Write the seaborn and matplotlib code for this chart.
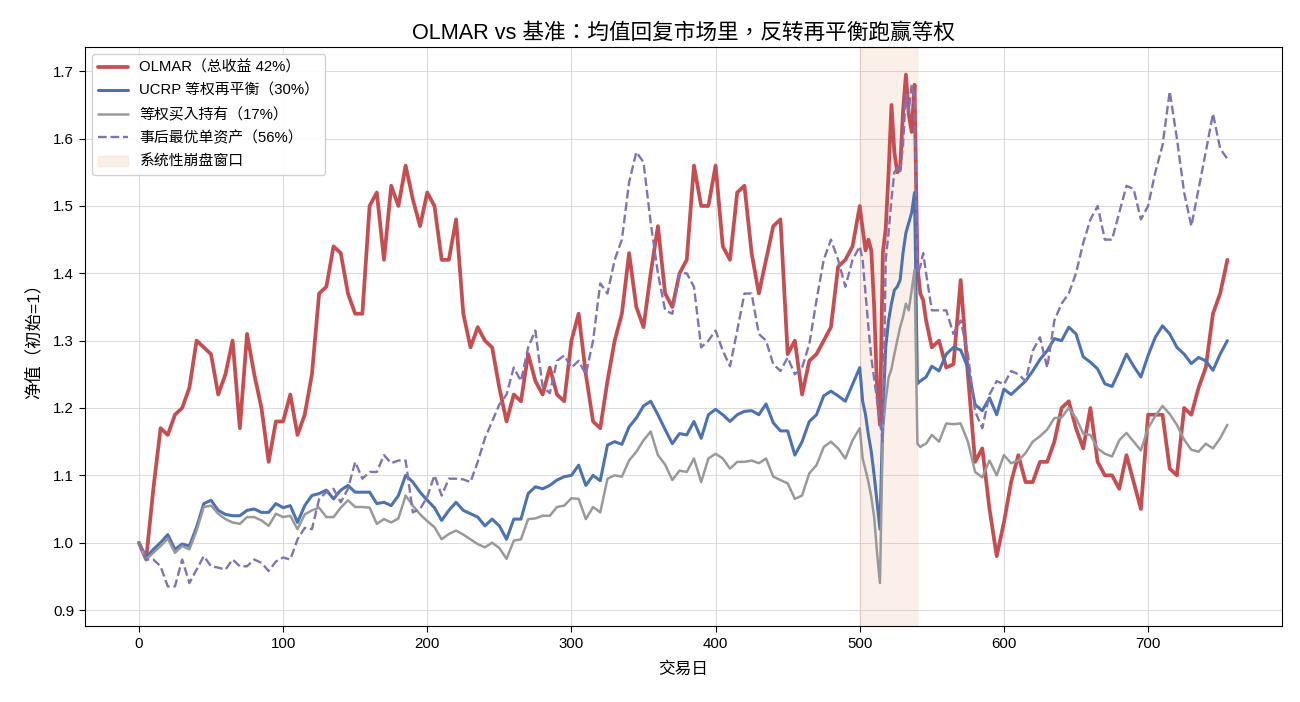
import matplotlib
matplotlib.use("Agg")
import matplotlib.pyplot as plt
import seaborn as sns

# trading days sampled from the chart (denser inside the crash window)
days = list(range(0, 500, 5)) + list(range(500, 548, 2)) + list(range(550, 760, 5))

olmar = [
    1.00, 0.975, 1.08, 1.17, 1.16, 1.19, 1.20, 1.23, 1.30, 1.29, 1.28, 1.22, 1.25, 1.30, 1.17, 1.31, 1.25, 1.20, 1.12, 1.18,
    1.18, 1.22, 1.16, 1.19, 1.25, 1.37, 1.38, 1.44, 1.43, 1.37, 1.34, 1.34, 1.50, 1.52, 1.42, 1.53, 1.50, 1.56, 1.51, 1.47,
    1.52, 1.50, 1.42, 1.42, 1.48, 1.34, 1.29, 1.32, 1.30, 1.29, 1.23, 1.18, 1.22, 1.21, 1.28, 1.24, 1.22, 1.26, 1.22, 1.21,
    1.30, 1.34, 1.25, 1.18, 1.17, 1.24, 1.30, 1.34, 1.43, 1.35, 1.32, 1.40, 1.47, 1.37, 1.35, 1.40, 1.42, 1.56, 1.50, 1.50,
    1.56, 1.44, 1.42, 1.52, 1.53, 1.43, 1.37, 1.42, 1.47, 1.48, 1.28, 1.30, 1.22, 1.27, 1.28, 1.30, 1.32, 1.41, 1.42, 1.44,
    1.50, 1.466, 1.434, 1.45, 1.434, 1.35, 1.23, 1.175, 1.43, 1.466, 1.55, 1.65, 1.58, 1.55, 1.555, 1.64, 1.695, 1.636,
    1.61, 1.68, 1.41, 1.37, 1.36, 1.33,
    1.29, 1.30, 1.26, 1.265, 1.39, 1.25, 1.12, 1.14, 1.05, 0.98, 1.03, 1.09, 1.13, 1.09, 1.09, 1.12, 1.12, 1.15, 1.20, 1.21,
    1.17, 1.14, 1.20, 1.12, 1.10, 1.10, 1.08, 1.13, 1.09, 1.05, 1.19, 1.19, 1.19, 1.11, 1.10, 1.20, 1.19, 1.23, 1.26, 1.34,
    1.37, 1.42,
]

ucrp = [
    1.00, 0.978, 0.99, 1.00, 1.012, 0.99, 0.998, 0.995, 1.023, 1.058, 1.063, 1.048, 1.042, 1.04, 1.04, 1.048, 1.05, 1.045, 1.045, 1.058,
    1.052, 1.055, 1.03, 1.055, 1.07, 1.073, 1.078, 1.065, 1.078, 1.085, 1.075, 1.075, 1.075, 1.058, 1.06, 1.055, 1.07, 1.10, 1.09, 1.075,
    1.063, 1.052, 1.033, 1.048, 1.06, 1.048, 1.043, 1.038, 1.025, 1.035, 1.025, 1.005, 1.035, 1.035, 1.073, 1.083, 1.08, 1.085, 1.093, 1.098,
    1.10, 1.115, 1.085, 1.10, 1.092, 1.145, 1.15, 1.146, 1.172, 1.185, 1.203, 1.21, 1.19, 1.168, 1.147, 1.162, 1.16, 1.18, 1.155, 1.19,
    1.198, 1.19, 1.18, 1.19, 1.195, 1.196, 1.19, 1.206, 1.178, 1.166, 1.166, 1.13, 1.15, 1.18, 1.19, 1.218, 1.225, 1.218, 1.21, 1.235,
    1.26, 1.21, 1.19, 1.16, 1.135, 1.10, 1.06, 1.02, 1.19, 1.29, 1.33, 1.355, 1.375, 1.38, 1.39, 1.43, 1.46, 1.475,
    1.49, 1.52, 1.236, 1.24, 1.243, 1.246,
    1.262, 1.255, 1.28, 1.29, 1.286, 1.26, 1.205, 1.196, 1.215, 1.19, 1.228, 1.22, 1.23, 1.24, 1.255, 1.272, 1.285, 1.303, 1.30, 1.32,
    1.31, 1.276, 1.268, 1.258, 1.236, 1.232, 1.255, 1.28, 1.262, 1.246, 1.278, 1.305, 1.322, 1.31, 1.29, 1.28, 1.266, 1.275, 1.27, 1.256,
    1.28, 1.30,
]

buy_hold = [
    1.00, 0.975, 0.985, 0.995, 1.006, 0.985, 0.995, 0.99, 1.018, 1.053, 1.055, 1.043, 1.035, 1.03, 1.028, 1.038, 1.038, 1.033, 1.025, 1.043,
    1.038, 1.04, 1.02, 1.042, 1.048, 1.052, 1.038, 1.038, 1.052, 1.063, 1.053, 1.053, 1.052, 1.028, 1.035, 1.03, 1.036, 1.07, 1.055, 1.042,
    1.032, 1.023, 1.005, 1.013, 1.018, 1.012, 1.005, 0.998, 0.993, 1.0, 0.992, 0.976, 1.003, 1.005, 1.035, 1.036, 1.04, 1.04, 1.053, 1.055,
    1.066, 1.065, 1.035, 1.053, 1.045, 1.095, 1.10, 1.098, 1.122, 1.135, 1.152, 1.165, 1.13, 1.116, 1.093, 1.107, 1.105, 1.125, 1.09, 1.125,
    1.132, 1.125, 1.11, 1.12, 1.12, 1.122, 1.118, 1.125, 1.098, 1.093, 1.088, 1.065, 1.07, 1.103, 1.115, 1.142, 1.15, 1.14, 1.125, 1.152,
    1.17, 1.125, 1.108, 1.09, 1.068, 1.038, 0.985, 0.94, 1.165, 1.212, 1.245, 1.258, 1.28, 1.30, 1.32, 1.335, 1.355, 1.345,
    1.375, 1.405, 1.147, 1.142, 1.145, 1.147,
    1.16, 1.15, 1.177, 1.176, 1.177, 1.15, 1.105, 1.097, 1.122, 1.10, 1.13, 1.118, 1.122, 1.133, 1.15, 1.158, 1.168, 1.185, 1.186, 1.20,
    1.185, 1.162, 1.16, 1.14, 1.132, 1.128, 1.152, 1.163, 1.15, 1.137, 1.17, 1.188, 1.203, 1.191, 1.175, 1.153, 1.138, 1.135, 1.147, 1.14,
    1.155, 1.175,
]

best_asset = [
    1.00, 0.975, 0.975, 0.965, 0.935, 0.935, 0.975, 0.94, 0.96, 0.98, 0.965, 0.963, 0.96, 0.975, 0.965, 0.965, 0.975, 0.97, 0.958, 0.972,
    0.978, 0.975, 1.005, 1.022, 1.02, 1.065, 1.075, 1.08, 1.06, 1.08, 1.12, 1.095, 1.105, 1.105, 1.13, 1.118, 1.122, 1.122, 1.045, 1.05,
    1.068, 1.10, 1.07, 1.095, 1.095, 1.094, 1.09, 1.12, 1.155, 1.18, 1.205, 1.22, 1.26, 1.24, 1.29, 1.315, 1.232, 1.222, 1.27, 1.278,
    1.26, 1.27, 1.25, 1.30, 1.385, 1.37, 1.42, 1.45, 1.535, 1.58, 1.565, 1.475, 1.40, 1.345, 1.34, 1.40, 1.40, 1.38, 1.29, 1.30,
    1.315, 1.285, 1.262, 1.315, 1.37, 1.37, 1.31, 1.30, 1.265, 1.255, 1.275, 1.25, 1.26, 1.295, 1.36, 1.42, 1.45, 1.42, 1.38, 1.42,
    1.44, 1.42, 1.37, 1.32, 1.275, 1.243, 1.21, 1.18, 1.15, 1.42, 1.46, 1.51, 1.55, 1.556, 1.55, 1.59, 1.665, 1.64,
    1.68, 1.66, 1.40, 1.41, 1.43, 1.40,
    1.345, 1.345, 1.345, 1.31, 1.33, 1.28, 1.195, 1.17, 1.22, 1.24, 1.235, 1.255, 1.25, 1.24, 1.285, 1.305, 1.26, 1.33, 1.355, 1.37,
    1.40, 1.445, 1.48, 1.50, 1.45, 1.45, 1.49, 1.53, 1.525, 1.48, 1.50, 1.55, 1.59, 1.67, 1.60, 1.52, 1.47, 1.525, 1.58, 1.637,
    1.585, 1.57,
]

labels = ["OLMAR（总收益 42%）", "UCRP 等权再平衡（30%）", "等权买入持有（17%）", "事后最优单资产（56%）"]
crash_window = (500, 540)

sns.set_style("whitegrid", {
    "axes.edgecolor": "black",
    "grid.color": "#dcdcdc",
    "xtick.bottom": True,
    "ytick.left": True,
    "text.color": "black",
    "axes.labelcolor": "black",
    "xtick.color": "black",
    "ytick.color": "black",
})
plt.rcParams["font.family"] = ["Liberation Sans", "Noto Sans CJK TC", "DejaVu Sans"]
plt.rcParams["axes.unicode_minus"] = False

fig, ax = plt.subplots(figsize=(13, 7.02), dpi=100)
fig.subplots_adjust(left=0.065, right=0.986, top=0.933, bottom=0.108)

for vals in (olmar, ucrp, buy_hold, best_asset):
    assert len(vals) == len(days), len(vals)

sns.lineplot(x=days, y=olmar, color="#C44E52", linewidth=2.7, label=labels[0], ax=ax)
sns.lineplot(x=days, y=ucrp, color="#4C72B0", linewidth=2.2, label=labels[1], ax=ax)
sns.lineplot(x=days, y=buy_hold, color="#999999", linewidth=1.8, label=labels[2], ax=ax)
sns.lineplot(x=days, y=best_asset, color="#8172B3", linewidth=1.7, linestyle="--", label=labels[3], ax=ax)
ax.axvspan(crash_window[0], crash_window[1], color="#DD8452", alpha=0.12, label="系统性崩盘窗口")

ax.set_xlim(-37.75, 792.75)
ax.set_ylim(0.876, 1.736)
ax.set_yticks([0.9, 1.0, 1.1, 1.2, 1.3, 1.4, 1.5, 1.6, 1.7])
ax.set_xticks([0, 100, 200, 300, 400, 500, 600, 700])
ax.tick_params(labelsize=10.8, length=4, color="black")

ax.set_title("OLMAR vs 基准：均值回复市场里，反转再平衡跑赢等权", fontsize=15.6, pad=6)
ax.set_xlabel("交易日", fontsize=12, labelpad=8)
ax.set_ylabel("净值（初始=1）", fontsize=12.5, labelpad=8)
ax.legend(loc="upper left", fontsize=10.7, frameon=True, framealpha=0.9, labelspacing=0.62)

fig.savefig("out.png", dpi=100)
